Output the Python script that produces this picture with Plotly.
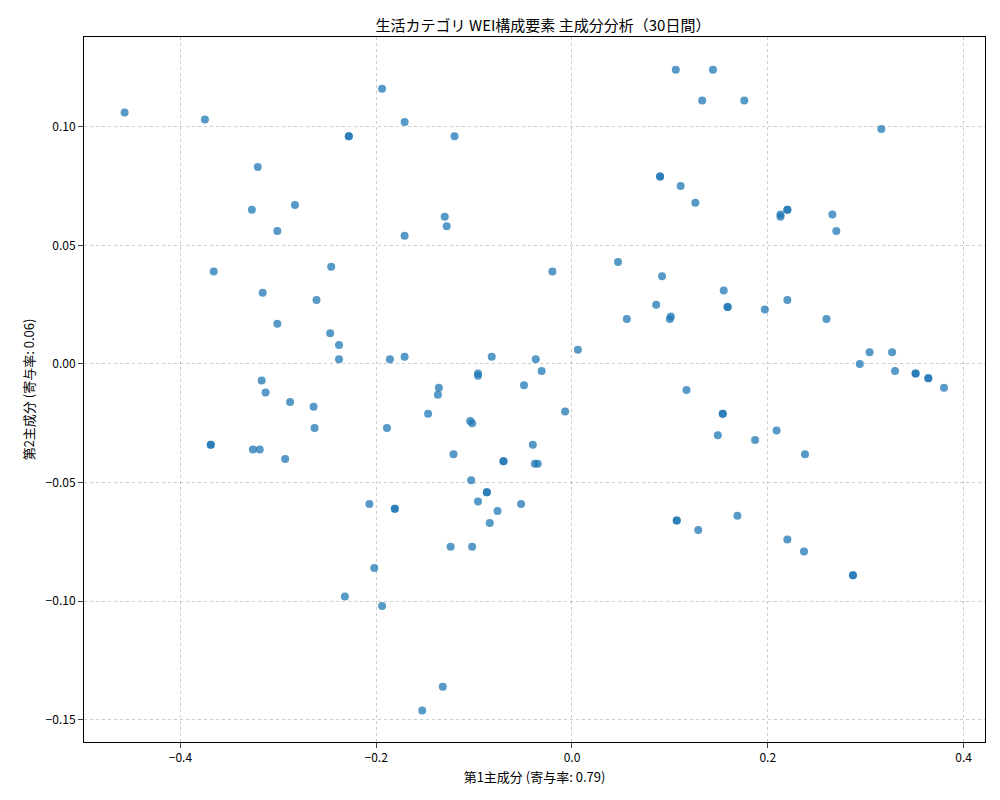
import plotly.graph_objects as go

pc1 = [-0.457,-0.375,-0.194,-0.321,-0.228,-0.228,-0.171,-0.120,-0.327,-0.283,-0.301,-0.171,-0.130,-0.128,
       -0.366,-0.246,-0.316,-0.261,-0.301,-0.247,-0.238,-0.238,-0.186,-0.171,-0.317,-0.313,-0.288,-0.264,
       -0.136,-0.137,-0.147,-0.369,-0.369,-0.326,-0.319,-0.293,-0.263,-0.189,-0.121,-0.104,-0.102,-0.096,
       -0.096,-0.082,-0.049,-0.037,-0.031,-0.020,0.006,-0.007,-0.040,-0.038,-0.035,-0.070,-0.070,-0.103,
       -0.087,-0.087,-0.096,-0.076,-0.084,-0.052,-0.124,-0.102,-0.207,-0.181,-0.181,-0.202,-0.232,-0.194,
       -0.132,-0.153,
       0.106,0.144,0.133,0.176,0.111,0.090,0.090,0.126,0.047,0.092,0.056,0.086,0.100,0.101,0.155,0.159,
       0.159,0.197,0.220,0.213,0.213,0.220,0.220,0.266,0.270,0.316,0.260,0.304,0.327,0.294,0.330,0.351,
       0.351,0.364,0.364,0.380,0.117,0.154,0.154,0.149,0.187,0.209,0.238,0.107,0.107,0.129,0.169,0.220,
       0.237,0.287,0.287]
pc2 = [0.106,0.103,0.116,0.083,0.096,0.096,0.102,0.096,0.065,0.067,0.056,0.054,0.062,0.058,
       0.039,0.041,0.030,0.027,0.017,0.013,0.008,0.002,0.002,0.003,-0.007,-0.012,-0.016,-0.018,
       -0.010,-0.013,-0.021,-0.034,-0.034,-0.036,-0.036,-0.040,-0.027,-0.027,-0.038,-0.024,-0.025,-0.004,
       -0.005,0.003,-0.009,0.002,-0.003,0.039,0.006,-0.020,-0.034,-0.042,-0.042,-0.041,-0.041,-0.049,
       -0.054,-0.054,-0.058,-0.062,-0.067,-0.059,-0.077,-0.077,-0.059,-0.061,-0.061,-0.086,-0.098,-0.102,
       -0.136,-0.146,
       0.124,0.124,0.111,0.111,0.075,0.079,0.079,0.068,0.043,0.037,0.019,0.025,0.019,0.020,0.031,0.024,
       0.024,0.023,0.027,0.062,0.063,0.065,0.065,0.063,0.056,0.099,0.019,0.005,0.005,-0.000,-0.003,-0.004,
       -0.004,-0.006,-0.006,-0.010,-0.011,-0.021,-0.021,-0.030,-0.032,-0.028,-0.038,-0.066,-0.066,-0.070,-0.064,-0.074,
       -0.079,-0.089,-0.089]

fig = go.Figure(go.Scatter(x=pc1, y=pc2, mode="markers",
    marker=dict(color="#1f77b4", size=8, opacity=0.75, line=dict(width=0))))
font = "Noto Sans CJK JP, DejaVu Sans, sans-serif"
ax = dict(showline=True, linecolor="black", linewidth=1, mirror=True, ticks="outside", automargin=False,
          showgrid=True, gridcolor="rgba(0,0,0,0.2)", griddash="dot", zeroline=False,
          tickfont=dict(size=12, color="black"))
fig.update_layout(width=1000, height=800, plot_bgcolor="white", paper_bgcolor="white",
    font=dict(family=font, color="black"),
    margin=dict(l=76, r=23, t=29, b=66, autoexpand=False),
    title=dict(text="生活カテゴリ WEI構成要素 主成分分析（30日間）", x=0.535, xanchor="center", y=0.985, font=dict(size=15), automargin=False),
    xaxis=dict(ax, range=[-0.4985, 0.4219], tickvals=[-0.4,-0.2,0,0.2,0.4], ticktext=["−0.4","−0.2","0.0","0.2","0.4"],
               title=dict(text="第1主成分 (寄与率: 0.79)", font=dict(size=13), standoff=8)),
    yaxis=dict(ax, range=[-0.1593, 0.1378], tickvals=[-0.15,-0.1,-0.05,0,0.05,0.1],
               ticktext=["−0.15","−0.10","−0.05","0.00","0.05","0.10"],
               title=dict(text="第2主成分 (寄与率: 0.06)", font=dict(size=13), standoff=8)))
fig.write_html("out.html")
